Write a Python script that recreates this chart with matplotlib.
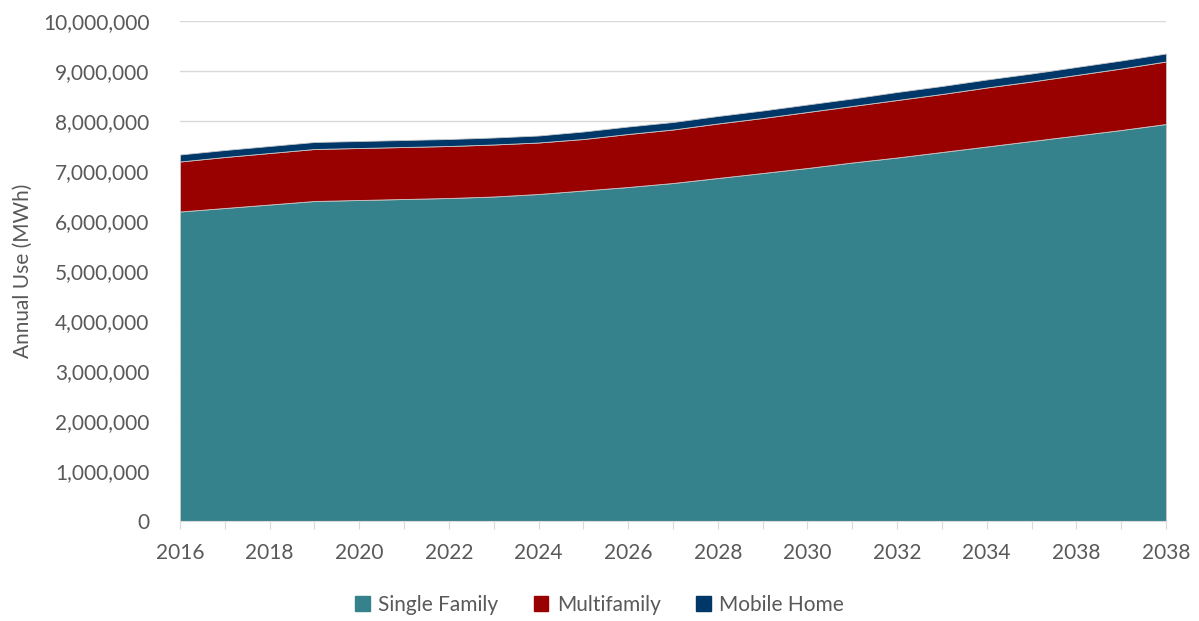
import numpy as np
import matplotlib.pyplot as plt
from matplotlib.ticker import FuncFormatter
from matplotlib.patches import Patch

plt.rcParams['font.family'] = ['Lato', 'DejaVu Sans']

# annual use by year, millions of MWh
years = list(range(2016, 2039))
single_family = [6.19, 6.26, 6.33, 6.40, 6.42, 6.44, 6.46, 6.49, 6.54, 6.61, 6.68, 6.76,
                 6.86, 6.96, 7.06, 7.17, 7.27, 7.38, 7.49, 7.60, 7.71, 7.82, 7.94]
multifamily = [1.00, 1.02, 1.03, 1.04, 1.04, 1.04, 1.04, 1.04, 1.03, 1.03, 1.06, 1.07,
               1.09, 1.10, 1.12, 1.13, 1.15, 1.16, 1.18, 1.19, 1.21, 1.23, 1.25]
mobile_home = [0.14, 0.14, 0.14, 0.14, 0.14, 0.14, 0.14, 0.14, 0.14, 0.15, 0.15, 0.15,
               0.15, 0.15, 0.15, 0.15, 0.16, 0.16, 0.16, 0.16, 0.16, 0.16, 0.16]
# labels as printed on the original axis (every other year)
tick_labels = ["2016", "2018", "2020", "2022", "2024", "2026", "2028", "2030",
               "2032", "2034", "2038", "2038"]
series_names = ["Single Family", "Multifamily", "Mobile Home"]
colors = ["#36828c", "#990000", "#003769"]

sf = np.array(single_family) * 1e6
mf = np.array(multifamily) * 1e6
mh = np.array(mobile_home) * 1e6
x = np.arange(len(years))

fig = plt.figure(figsize=(11.99, 6.21), dpi=100)
ax = fig.add_axes([180 / 1199, 1 - 521 / 621, 986 / 1199, 500 / 621])

ax.stackplot(x, sf, mf, mh, colors=colors, linewidth=0.6, edgecolor="#c8c8c8")

ax.set_xlim(0, len(years) - 1)
ax.set_ylim(0, 10e6)
ax.set_yticks(np.arange(0, 10.5e6, 1e6))
ax.yaxis.set_major_formatter(FuncFormatter(lambda v, p: f"{v:,.0f}"))
ax.grid(axis="y", color="#d9d9d9", linewidth=1)
ax.set_axisbelow(True)

labels = []
for i in range(len(years)):
    labels.append(tick_labels[i // 2] if i % 2 == 0 else "")
ax.set_xticks(x, labels)

for s in ["top", "right", "left"]:
    ax.spines[s].set_visible(False)
ax.spines["bottom"].set_color("#d9d9d9")
ax.tick_params(axis="x", length=6, color="#d9d9d9", labelsize=15, labelcolor="#595959", pad=10)
ax.tick_params(axis="y", length=0, labelsize=15, labelcolor="#595959", pad=22)
ax.set_ylabel("Annual Use (MWh)", fontsize=15, color="#595959", labelpad=7)

handles = [Patch(color=c, label=n) for c, n in zip(colors, series_names)]
fig.legend(handles=handles, loc="center", bbox_to_anchor=(0.5, 1 - 605 / 621), ncol=3,
           frameon=False, fontsize=15, labelcolor="#595959", handlelength=0.7,
           handleheight=0.7, columnspacing=1.7, handletextpad=0.4)

fig.savefig("out.png", dpi=100)
